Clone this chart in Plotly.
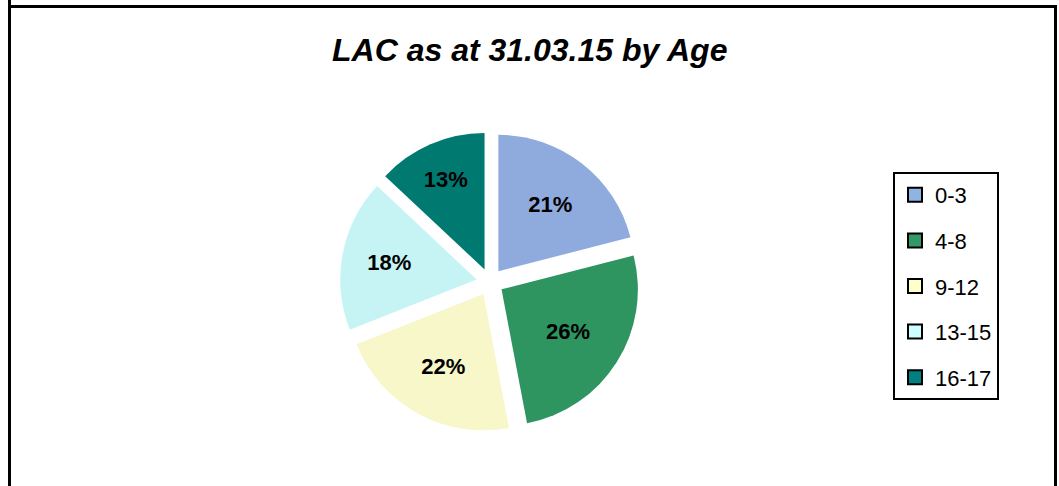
import plotly.graph_objects as go

categories = ["0-3", "4-8", "9-12", "13-15", "16-17"]
values = [21, 26, 22, 18, 13]
slice_colors = ["#8FAADC", "#2E9460", "#F7F7CA", "#C6F4F4", "#007A70"]
legend_colors = ["#8EB4E3", "#339966", "#FFFFCC", "#CCFFFF", "#008080"]
title_text = "LAC as at 31.03.15 by Age"

W, H = 1059, 486
fig = go.Figure()

cx, cy, half = 490 / W, 1 - 282 / H, 150
fig.add_trace(go.Pie(
    labels=categories,
    values=values,
    sort=False,
    direction="clockwise",
    rotation=0,
    pull=[0.1] * len(values),
    marker=dict(colors=slice_colors, line=dict(width=0)),
    texttemplate="<b>%{percent:.0%}</b>",
    textposition="inside",
    insidetextorientation="horizontal",
    textfont=dict(family="Liberation Sans, Arial", size=22, color="black"),
    showlegend=False,
    hoverinfo="label+percent",
    domain=dict(x=[cx - 2 * half / W, cx + 2 * half / W],
                y=[cy - half / H, cy + half / H]),
))

for cat, col in zip(categories, legend_colors):
    fig.add_trace(go.Scatter(
        x=[None], y=[None], mode="markers", name=cat,
        legendgroup=cat,
        marker=dict(symbol="square", size=14, color=col,
                    line=dict(color="black", width=2)),
    ))

fig.add_annotation(
    text="<b><i>" + title_text + "</i></b>",
    x=529 / W, y=1 - 50 / H, xref="paper", yref="paper",
    showarrow=False, xanchor="center", yanchor="middle",
    font=dict(family="Liberation Sans, Arial", size=32, color="black"),
)

# outer frame
fig.add_shape(type="rect", xref="paper", yref="paper",
              x0=9.5 / W, x1=1055.5 / W, y0=-0.1, y1=1 - 6.5 / H,
              line=dict(color="black", width=3), fillcolor="rgba(0,0,0,0)")
fig.add_shape(type="line", xref="paper", yref="paper",
              x0=9.5 / W, x1=9.5 / W, y0=1 - 6.5 / H, y1=1.01,
              line=dict(color="black", width=3))

fig.update_layout(
    width=W, height=H,
    margin=dict(l=0, r=0, t=0, b=0),
    paper_bgcolor="white", plot_bgcolor="white",
    xaxis=dict(visible=False), yaxis=dict(visible=False),
    legend=dict(
        x=893 / W, y=1 - 172 / H, xanchor="left", yanchor="top",
        bordercolor="black", borderwidth=2, bgcolor="white",
        font=dict(family="Liberation Sans, Arial", size=22, color="black"),
        tracegroupgap=14, itemwidth=30,
    ),
)

fig.write_html(
    "out.html",
    config={"displayModeBar": False},
    post_script="document.body.style.margin='0';"
                "document.body.style.overflow='hidden';"
                "document.documentElement.style.overflow='hidden';",
)
